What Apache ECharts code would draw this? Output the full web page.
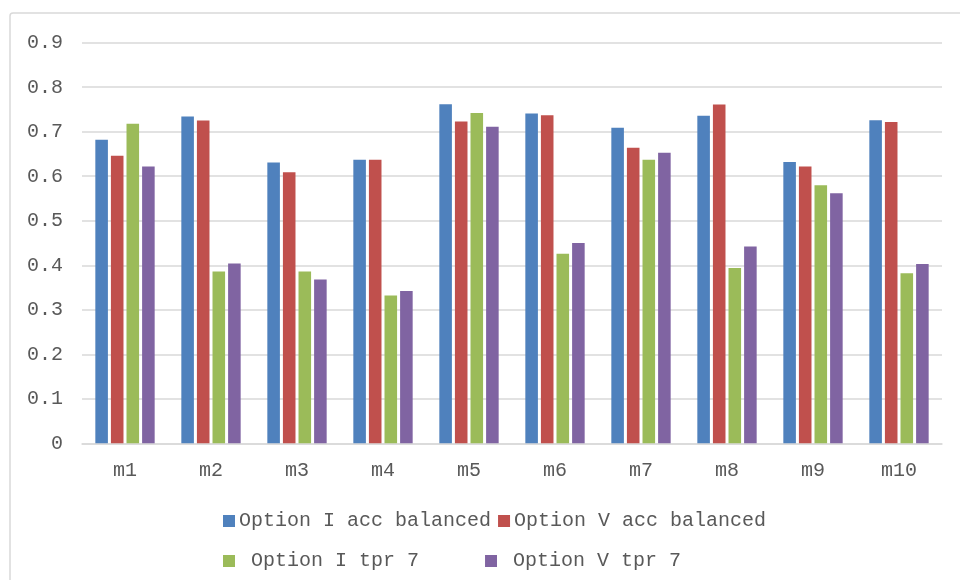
<!DOCTYPE html>
<html>
<head>
<meta charset="utf-8">
<script src="https://cdn.jsdelivr.net/npm/echarts@6/dist/echarts.min.js"></script>
<style>
  html, body { margin: 0; padding: 0; background: #fff; }
  #chart { width: 960px; height: 580px; }
</style>
</head>
<body>
<div id="chart"></div>
<script>
// Categories (models) and the four measured series
const categories = ['m1', 'm2', 'm3', 'm4', 'm5', 'm6', 'm7', 'm8', 'm9', 'm10'];
const optionIAccBalanced = [0.682, 0.734, 0.631, 0.637, 0.762, 0.741, 0.709, 0.736, 0.632, 0.726];
const optionVAccBalanced = [0.646, 0.725, 0.609, 0.637, 0.723, 0.737, 0.664, 0.761, 0.622, 0.722];
const optionITpr7 = [0.718, 0.386, 0.386, 0.332, 0.742, 0.426, 0.637, 0.394, 0.580, 0.382];
const optionVTpr7 = [0.622, 0.404, 0.368, 0.342, 0.711, 0.450, 0.653, 0.442, 0.562, 0.403];
const seriesNames = ['Option I acc balanced', 'Option V acc balanced', 'Option I tpr 7', 'Option V tpr 7'];
const yTicks = [0, 0.1, 0.2, 0.3, 0.4, 0.5, 0.6, 0.7, 0.8, 0.9];

const colors = ['#4F81BD', '#C0504D', '#9BBB59', '#8064A2'];
const textColor = '#595959';
const gridColor = '#D9D9D9';
const font = "'Liberation Mono', 'DejaVu Sans Mono', monospace";

const chart = echarts.init(document.getElementById('chart'), null, { renderer: 'canvas' });

const values = [optionIAccBalanced, optionVAccBalanced, optionITpr7, optionVTpr7];

chart.setOption({
  animation: false,
  color: colors,
  textStyle: { fontFamily: font },
  graphic: [{
    type: 'rect',
    shape: { x: 10, y: 13, width: 960, height: 600, r: 3 },
    style: { fill: 'none', stroke: '#D9D9D9', lineWidth: 1.5 },
    silent: true,
    z: -1
  }],
  grid: { left: 82, right: 18, top: 42.7, bottom: 136.7, containLabel: false },
  legend: [
    {
      data: seriesNames.slice(0, 2),
      left: 218, top: 506,
      itemWidth: 12, itemHeight: 12, itemGap: 7,
      icon: 'rect',
      textStyle: { fontFamily: font, fontSize: 20, color: textColor, padding: [0, 0, 0, -1] }
    },
    {
      data: seriesNames.slice(2, 4),
      left: 218, top: 546,
      itemWidth: 12, itemHeight: 12, itemGap: 66,
      icon: 'rect',
      formatter: name => ' ' + name,
      textStyle: { fontFamily: font, fontSize: 20, color: textColor, padding: [0, 0, 0, -1] }
    }
  ],
  xAxis: {
    type: 'category',
    data: categories,
    axisLine: { show: true, lineStyle: { color: gridColor, width: 1.5 } },
    axisTick: { show: false },
    axisLabel: { color: textColor, fontSize: 20, fontFamily: font, margin: 17 }
  },
  yAxis: {
    type: 'value',
    min: yTicks[0],
    max: yTicks[yTicks.length - 1],
    interval: 0.1,
    axisLine: { show: false },
    axisTick: { show: false },
    splitLine: { lineStyle: { color: gridColor, width: 1.5 } },
    axisLabel: {
      color: textColor, fontSize: 20, fontFamily: font, margin: 19,
      formatter: v => (Math.abs(v) < 1e-9 ? '0' : v.toFixed(1))
    }
  },
  series: values.map((d, i) => ({
    name: seriesNames[i],
    type: 'bar',
    data: d,
    barGap: '24%',
    barCategoryGap: '31%',
    itemStyle: { color: colors[i] }
  }))
});
</script>
</body>
</html>
